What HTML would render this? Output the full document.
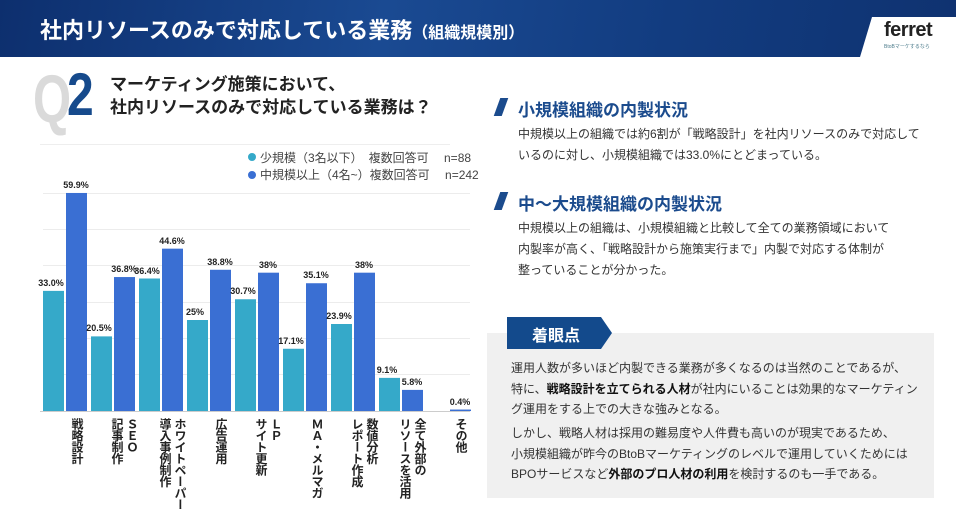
<!DOCTYPE html>
<html><head><meta charset="utf-8"><style>
*{margin:0;padding:0;box-sizing:border-box}
body{width:956px;height:515px;overflow:hidden;background:#fff;font-family:"Liberation Sans","Noto Sans CJK JP",sans-serif;position:relative;color:#333}
.abs{position:absolute;white-space:nowrap}
#hdr{left:0;top:0;width:956px;height:57px;background:linear-gradient(100deg,#0d2f6e 0%,#1a4a92 40%,#123c80 70%,#0f3270 100%)}
.h2{font-size:17px;font-weight:bold;color:#1b4b8d}
.slash{width:8px;height:18px;background:#1b4b8d;transform:skewX(-20deg)}
.body{font-size:12px;line-height:21px;color:#333}
.lbl{writing-mode:vertical-rl;font-size:12px;font-weight:bold;color:#222;line-height:15px;letter-spacing:-0.5px;white-space:pre}
.val{font-size:9px;font-weight:bold;color:#222;transform:translateX(-50%)}
</style></head><body>
<div id="hdr" class="abs"></div>
<div class="abs" style="left:40px;top:13px;font-size:22px;font-weight:bold;color:#fff">社内リソースのみで対応している業務<span style="font-size:16px">（組織規模別）</span></div>
<svg class="abs" style="left:856px;top:17px" width="100" height="40"><polygon points="16,0 100,0 100,40 4,40" fill="#fff"/></svg>
<div class="abs" style="left:884px;top:19px;font-size:20px;font-weight:bold;color:#222;letter-spacing:-0.5px">ferret</div>
<div class="abs" style="left:884px;top:43px;font-size:5px;color:#4a7a8a">BtoBマーケするなら</div>

<div class="abs" style="left:33px;top:60px;font-size:68px;font-weight:bold;color:#dadada;transform:scaleX(0.72);transform-origin:left">Q</div>
<div class="abs" style="left:67px;top:60px;font-size:60px;font-weight:bold;color:#164a8c;transform:scaleX(0.8);transform-origin:left">2</div>
<div class="abs" style="left:110px;top:73px;font-size:17px;font-weight:bold;color:#222;line-height:23px">マーケティング施策において、<br>社内リソースのみで対応している業務は？</div>

<div class="abs slash" style="left:497px;top:98px"></div>
<div class="abs h2" style="left:518px;top:96px">小規模組織の内製状況</div>
<div class="abs body" style="left:518px;top:124px">中規模以上の組織では約6割が「戦略設計」を社内リソースのみで対応して<br>いるのに対し、小規模組織では33.0%にとどまっている。</div>
<div class="abs slash" style="left:497px;top:192px"></div>
<div class="abs h2" style="left:518px;top:190px">中～大規模組織の内製状況</div>
<div class="abs body" style="left:518px;top:218px">中規模以上の組織は、小規模組織と比較して全ての業務領域において<br>内製率が高く、「戦略設計から施策実行まで」内製で対応する体制が<br>整っていることが分かった。</div>

<div class="abs" style="left:487px;top:333px;width:447px;height:165px;background:#f0f0f0"></div>
<svg class="abs" style="left:507px;top:317px" width="106" height="33"><polygon points="0,0 94,0 105,16 94,32 0,32" fill="#134a8c"/></svg>
<div class="abs" style="left:532px;top:322px;font-size:16px;font-weight:bold;color:#fff">着眼点</div>
<div class="abs body" style="left:511px;top:358px;line-height:20.5px">運用人数が多いほど内製できる業務が多くなるのは当然のことであるが、<br>特に、<b style="color:#111">戦略設計を立てられる人材</b>が社内にいることは効果的なマーケティン<br>グ運用をする上での大きな強みとなる。</div>
<div class="abs body" style="left:511px;top:423px;line-height:20.5px">しかし、戦略人材は採用の難易度や人件費も高いのが現実であるため、<br>小規模組織が昨今のBtoBマーケティングのレベルで運用していくためには<br>BPOサービスなど<b style="color:#111">外部のプロ人材の利用</b>を検討するのも一手である。</div>

<svg class="abs" style="left:0;top:0" width="480" height="515">
<line x1="40" y1="144.5" x2="450" y2="144.5" stroke="#eee"/>
<g stroke="#ececec" stroke-width="1">
<line x1="43" y1="374.5" x2="470" y2="374.5"/><line x1="43" y1="338.5" x2="470" y2="338.5"/>
<line x1="43" y1="302.5" x2="470" y2="302.5"/><line x1="43" y1="265.5" x2="470" y2="265.5"/>
<line x1="43" y1="229.5" x2="470" y2="229.5"/><line x1="43" y1="193.5" x2="470" y2="193.5"/>
</g>
<circle cx="252" cy="157" r="4" fill="#35a9c9"/><circle cx="252" cy="175" r="4" fill="#3a6fd3"/>
<text x="260" y="162" font-size="12" fill="#444" font-family="Liberation Sans,Noto Sans CJK JP,sans-serif">少規模（3名以下）　複数回答可　 n=88</text>
<text x="260" y="179" font-size="12" fill="#444" font-family="Liberation Sans,Noto Sans CJK JP,sans-serif">中規模以上（4名~）複数回答可　 n=242</text>
<g id="bars"></g>
</svg>
<div id="labels"></div>
<script>
var c=[33.0,20.5,36.4,25,30.7,17.1,23.9,9.1,null],b=[59.9,36.8,44.6,38.8,38,35.1,38,5.8,0.4];
var ct=["33.0%","20.5%","36.4%","25%","30.7%","17.1%","23.9%","9.1%",""],bt=["59.9%","36.8%","44.6%","38.8%","38%","35.1%","38%","5.8%","0.4%"];
var L=["戦略設計","ＳＥＯ\n記事制作","ホワイトペーパー\n導入事例制作","広告運用","ＬＰ\nサイト更新","ＭＡ・メルマガ","数値分析\nレポート作成","全て外部の\nリソースを活用","その他"];
var s="",h="",base=411,k=3.64;
for(var i=0;i<9;i++){var x=43+i*48;
if(c[i]!=null){var hh=c[i]*k;s+='<rect x="'+x+'" y="'+(base-hh)+'" width="21" height="'+hh+'" fill="#35a9c9"/>';h+='<div class="abs val" style="left:'+(x+8)+'px;top:'+(base-hh-13)+'px">'+ct[i]+'</div>';}
var hb=b[i]*k;s+='<rect x="'+(x+23)+'" y="'+(base-hb)+'" width="21" height="'+Math.max(hb,1.5)+'" fill="#3a6fd3"/>';h+='<div class="abs val" style="left:'+(x+33)+'px;top:'+(base-hb-13)+'px">'+bt[i]+'</div>';
var n=L[i].split("\n").length;var lx=x+33-(n==1?7:15);h+='<div class="abs lbl" style="left:'+lx+'px;top:418px">'+L[i]+'</div>';}
s+='<line x1="40" y1="411.5" x2="470" y2="411.5" stroke="#ccc"/>';
document.getElementById("bars").innerHTML=s;document.getElementById("labels").innerHTML=h;
</script>
</body></html>
